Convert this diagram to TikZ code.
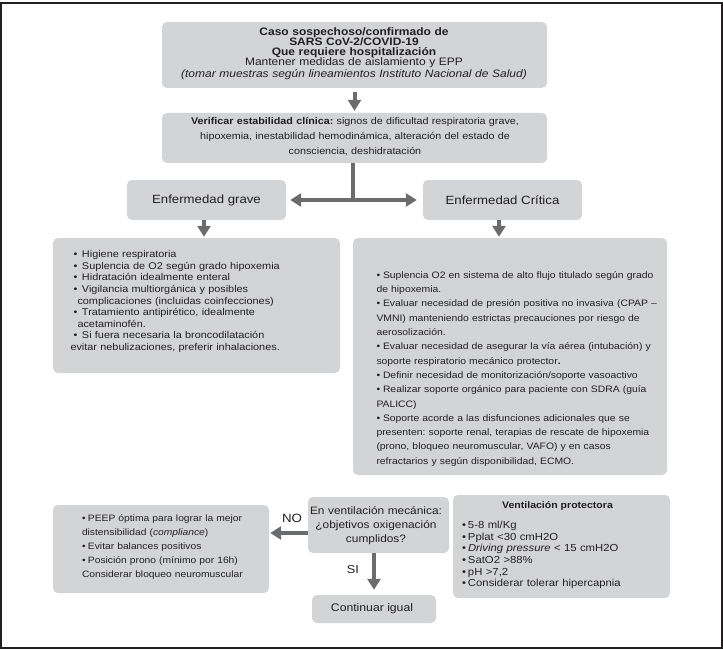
\documentclass[tikz,border=0pt]{standalone}
\usepackage{fontspec}
\setmainfont{Liberation Sans}[FakeStretch=1.11]
\usetikzlibrary{arrows.meta}
\definecolor{boxgray}{HTML}{D3D4D6}
\definecolor{arrgray}{HTML}{6B6C6E}
\definecolor{ink}{HTML}{231F20}
\newlength{\hangw}
\newcommand{\bitem}[1]{\par\hangindent=\hangw\hangafter=1\noindent\makebox[\hangw][l]{\textbullet}#1}
\newcommand{\tp}{\rule{0pt}{12pt}}
\frenchspacing
\begin{document}
\frenchspacing
\begin{tikzpicture}[x=1pt,y=-1pt,text=ink,
  box/.style={fill=boxgray, rounded corners=5pt, inner sep=0pt, draw=none},
  txt/.style={inner sep=0pt, outer sep=0pt},
  arr/.style={draw=arrgray, line width=4pt, -{Triangle[length=11pt,width=13pt]}},
  conn/.style={draw=arrgray, line width=4pt}]
\useasboundingbox (0,0) rectangle (723,650);
\draw[ink, line width=1.2pt] (1,3) rectangle (722,648);

% boxes
\node[box, minimum width=385pt, minimum height=66pt] (top) at (354.5,55) {};
\node[box, minimum width=385pt, minimum height=50pt] (verif) at (354.5,138) {};
\node[box, minimum width=159pt, minimum height=40pt] (grave) at (206.5,200) {};
\node[box, minimum width=159pt, minimum height=40pt] (crit) at (502.5,200) {};
\node[box, minimum width=287pt, minimum height=135pt] (sevlist) at (196.5,305.5) {};
\node[box, minimum width=314pt, minimum height=237pt] (critlist) at (510,356.5) {};
\node[box, minimum width=216pt, minimum height=88pt] (peep) at (161,549) {};
\node[box, minimum width=141pt, minimum height=56pt] (question) at (378.5,525) {};
\node[box, minimum width=124pt, minimum height=28pt] (cont) at (374,609) {};
\node[box, minimum width=217pt, minimum height=103pt] (vent) at (561.5,546.5) {};

% texts
\node[txt, anchor=north, text width=380pt, align=center,
  font=\fontsize{10.8}{10}\selectfont] (topT) at (354,24)
  {\lineskiplimit=-100pt\tp\textbf{Caso sospechoso/confirmado de}\\
   \textbf{SARS CoV-2/COVID-19}\\
   \textbf{Que requiere hospitalización}\\
   Mantener medidas de aislamiento y EPP\\
   \textit{(tomar muestras según lineamientos Instituto Nacional de Salud)}};

\node[txt, anchor=north, text width=380pt, align=center,
  font=\fontsize{9.7}{15}\selectfont] (verifT) at (355,113)
  {\lineskiplimit=-100pt\tp\textbf{Verificar estabilidad clínica:} signos de dificultad respiratoria grave,\\
   hipoxemia, inestabilidad hemodinámica, alteración del estado de\\
   consciencia, deshidratación};

\node[txt, font=\fontsize{11.9}{14}\selectfont] (graveT) at (grave.center) {Enfermedad grave};
\node[txt, font=\fontsize{11.9}{14}\selectfont] (critT) at (crit.center) {Enfermedad Crítica};

\node[txt, anchor=north west, text width=262pt, align=left,
  font=\fontsize{9.8}{11.6}\selectfont] (sevT) at (73.5,246)
  {\lineskiplimit=-100pt\hangw=8.5pt\relax\bitem{\tp Higiene respiratoria}
   \bitem{Suplencia de O2 según grado hipoxemia}
   \bitem{Hidratación idealmente enteral}
   \bitem{Vigilancia multiorgánica y posibles\\\hspace*{4pt}complicaciones (incluidas coinfecciones)}
   \bitem{Tratamiento antipirético, idealmente\\\hspace*{4pt}acetaminofén.}
   \bitem{Si fuera necesaria la broncodilatación\\\hspace*{-3pt}evitar nebulizaciones, preferir inhalaciones.}};

\node[txt, anchor=north west, text width=288pt, align=left,
  font=\fontsize{9.35}{14.3}\selectfont] (critT2) at (376.5,264)
  {\lineskiplimit=-100pt\hangw=6.5pt\relax\bitem{\tp Suplencia O2 en sistema de alto flujo titulado según grado\\de hipoxemia.}
   \bitem{Evaluar necesidad de presión positiva no invasiva (CPAP –\\VMNI) manteniendo estrictas precauciones por riesgo de\\aerosolización.}
   \bitem{Evaluar necesidad de asegurar la vía aérea (intubación) y\\soporte respiratorio mecánico protector\textbf{.}}
   \bitem{Definir necesidad de monitorización/soporte vasoactivo}
   \bitem{Realizar soporte orgánico para paciente con SDRA (guía\\PALICC)}
   \bitem{Soporte acorde a las disfunciones adicionales que se\\presenten: soporte renal, terapias de rescate de hipoxemia\\(prono, bloqueo neuromuscular, VAFO) y en casos\\refractarios y según disponibilidad, ECMO.}};

\node[txt, anchor=north west, text width=200pt, align=left,
  font=\fontsize{9.25}{14}\selectfont] (peepT) at (82,507)
  {\lineskiplimit=-100pt\hangw=6pt\relax\bitem{\tp PEEP óptima para lograr la mejor\\distensibilidad (\textit{compliance})}
   \bitem{Evitar balances positivos}
   \bitem{Posición prono (mínimo por 16h)\\Considerar bloqueo neuromuscular}};

\node[txt, anchor=north, text width=140pt, align=center,
  font=\fontsize{10.7}{14}\selectfont] (questionT) at (376,502)
  {\lineskiplimit=-100pt\tp En ventilación mecánica:\\¿objetivos oxigenación\\cumplidos?};

\node[txt, font=\fontsize{11}{13}\selectfont] (contT) at (372,609) {Continuar igual};
\node[txt, font=\fontsize{12}{14}\selectfont] (noT) at (292,518) {NO};
\node[txt, font=\fontsize{11.5}{14}\selectfont] (siT) at (353,570) {SI};

\node[txt, anchor=base, font=\fontsize{9.5}{11.6}\selectfont\bfseries] (ventTitle) at (557.5,508) {Ventilación protectora};
\node[txt, anchor=north west, text width=200pt, align=left,
  font=\fontsize{10.2}{11.6}\selectfont] (ventT) at (462,517)
  {\lineskiplimit=-100pt\hangw=6pt\relax\bitem{\tp 5-8 ml/Kg}
   \bitem{Pplat <30 cmH2O}
   \bitem{\textit{Driving pressure} < 15 cmH2O}
   \bitem{SatO2 >88\%}
   \bitem{pH >7,2}
   \bitem{Considerar tolerar hipercapnia}};

% connectors
\coordinate (split) at (353,200);
\draw[arr, shorten <=4pt, shorten >=2pt] (top.south) -- (verif.north);
\draw[conn] (verif.south -| split) -- (split);
\draw[arr, shorten >=4pt] (split) -- (grave.east);
\draw[arr, shorten >=6pt] (split) -- (crit.west);
\draw[arr, shorten >=1pt] ([xshift=-2.5pt]grave.south) -- ([xshift=-2.5pt]grave.south |- sevlist.north);
\draw[arr, shorten >=1pt] ([xshift=-3.5pt]crit.south) -- ([xshift=-3.5pt]crit.south |- critlist.north);
\draw[arr, shorten >=1pt] ([yshift=-8pt]question.west) -- ([yshift=-8pt]question.west -| peep.east);
\draw[arr, shorten >=5pt] (question.south -| cont.north) -- (cont.north);
\end{tikzpicture}
\end{document}
